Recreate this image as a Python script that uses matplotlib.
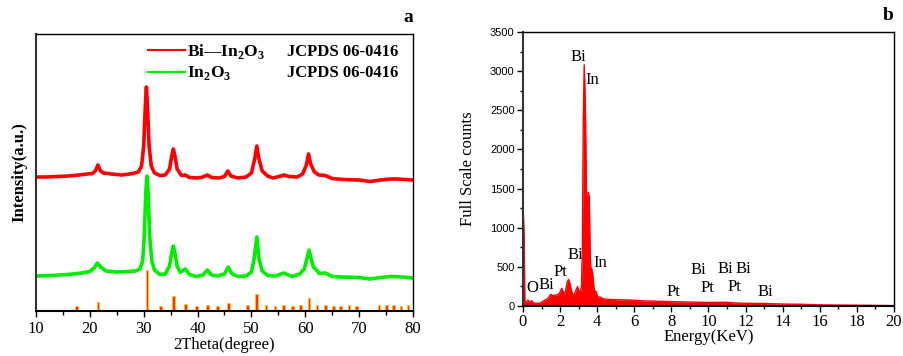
import numpy as np
import matplotlib
matplotlib.use("Agg")
import matplotlib.pyplot as plt
from matplotlib.ticker import MultipleLocator

plt.rcParams["font.family"] = ["Liberation Serif", "DejaVu Serif"]
plt.rcParams["mathtext.fontset"] = "custom"
plt.rcParams["mathtext.rm"] = "Liberation Serif"
plt.rcParams["mathtext.bf"] = "Liberation Serif:bold"

# ---- XRD (panel a), intensity in arbitrary units ----
red_2theta = [10, 12, 14, 16, 18, 19.5, 20.5, 21.0, 21.5, 22.0, 22.5, 24, 26, 28, 29, 29.6,
              30.0, 30.3, 30.5, 30.7, 31.0, 31.4, 32, 33, 34, 34.8, 35.2, 35.5, 35.8, 36.2,
              37, 37.7, 38.5, 40, 41, 41.8, 42.6, 44, 45, 45.6, 46.2, 47.5, 49, 50, 50.6,
              51.0, 51.4, 52, 53, 54, 55.5, 56, 57, 58.5, 59.5, 60.2, 60.6, 61.0, 61.7,
              62.5, 63.7, 65, 67, 70, 72, 74, 76, 77, 78.5, 80]
red_int = [134, 134, 134.5, 135, 136, 137, 137.5, 140, 146, 140, 138, 137, 136, 137.5, 139, 145,
           165, 205, 224, 205, 165, 145, 138, 135.5, 136, 142, 155, 162, 155, 142,
           135.5, 136, 133.5, 133, 134, 136, 133.5, 133, 134.5, 140, 135, 133, 134, 138, 152,
           165, 152, 140, 135, 133, 135, 136, 134.5, 134, 137, 146, 157, 147, 139,
           136, 135.5, 132.5, 131.5, 131, 129.5, 131, 132, 132, 131.5, 131]

green_2theta = [10, 13, 16, 18.5, 20, 20.8, 21.4, 22, 23, 25, 27, 28.5, 29.3, 29.8, 30.1, 30.4,
                30.6, 30.8, 31.1, 31.5, 32, 33, 34, 34.8, 35.2, 35.5, 35.8, 36.2, 36.8, 37.7,
                38.5, 39.8, 41, 41.8, 42.6, 43.7, 45, 45.7, 46.4, 47.5, 49, 50, 50.5, 51.0,
                51.4, 52, 53, 54.5, 56, 57.5, 59, 59.8, 60.3, 60.7, 61.1, 61.5, 61.9, 62.6,
                63.7, 65, 67, 70, 72, 74, 76, 78, 80]
green_int = [35, 35.5, 36.5, 38, 39.5, 43, 48, 44, 40, 39, 39.5, 40, 42, 50, 75, 120,
             135, 120, 75, 50, 41, 36.5, 37, 45, 58, 65, 58, 45, 38.5, 42,
             36.5, 34.5, 36, 41, 36, 35, 37, 44, 37, 34.5, 35, 39, 52, 74,
             52, 40, 35.5, 35, 38, 34.5, 37, 42, 52, 61, 52, 44, 42, 37.5,
             38, 34.5, 34, 33.5, 32, 33.5, 34.5, 34, 33]

# JCPDS 06-0416 reference lines
ref_2theta = [17.5, 21.5, 30.6, 33.1, 35.5, 37.7, 39.8, 41.8, 43.7, 45.7, 49.3, 51.0, 52.7,
              54.4, 56.0, 57.6, 59.1, 60.7, 62.2, 63.7, 65.2, 66.6, 68.1, 69.5, 73.7, 75.1,
              76.4, 77.8, 79.1]
ref_int = [5, 9.5, 41, 5, 15, 7, 5, 6.3, 5, 7.7, 5.7, 17, 5.7,
           5, 6.3, 5, 5.7, 13.3, 6.3, 6.3, 5, 5, 5.7, 5, 5.7, 5.7,
           5.7, 5, 5.7]

# ---- EDS (panel b) ----
energy = [0.0, 0.02, 0.06, 0.1, 0.2, 0.27, 0.35, 0.47, 0.55, 0.7, 0.9, 1.05, 1.19, 1.35, 1.5,
          1.6, 1.75, 1.9, 2.0, 2.09, 2.18, 2.27, 2.38, 2.45, 2.52, 2.58, 2.68, 2.76, 2.85,
          2.94, 3.02, 3.08, 3.15, 3.20, 3.25, 3.30, 3.36, 3.42, 3.46, 3.49, 3.52, 3.57, 3.62,
          3.66, 3.70, 3.75, 3.84, 3.95, 4.02, 4.2, 4.3, 5.0, 5.76, 6.5, 7.0, 8.0, 9.0, 10.0,
          10.9, 11.5, 12.0, 13.0, 14.0, 15.0, 16.0, 17.0, 18.0, 19.0, 20.0]
counts = [0, 1160, 900, 60, 50, 77, 45, 68, 40, 35, 35, 55, 77, 100, 150,
          130, 140, 145, 180, 226, 175, 162, 300, 340, 300, 226, 150, 140, 200,
          247, 190, 170, 247, 700, 2400, 3080, 2600, 1500, 1100, 1300, 1450, 1400, 700,
          450, 480, 420, 204, 180, 119, 111, 90, 80, 77, 65, 62, 55, 50, 45,
          48, 38, 35, 32, 25, 22, 15, 12, 10, 8, 5]

peak_labels = ["Bi", "In", "O", "Bi", "Pt", "Bi", "In", "Pt", "Bi", "Pt", "Bi", "Bi", "Pt", "Bi"]
label_E = [2.96, 3.72, 0.49, 1.28, 2.03, 2.82, 4.19, 8.10, 9.47, 9.93, 10.92, 11.9, 11.39, 13.05]
label_counts = [3180, 2886, 226, 268, 438, 651, 553, 175, 460, 226, 472, 472, 239, 175]

W, H = 904, 356
fig = plt.figure(figsize=(W / 100, H / 100), dpi=100)
ax1 = fig.add_axes([36 / W, (H - 311) / H, 377 / W, 277 / H])
ax2 = fig.add_axes([523 / W, (H - 306) / H, 371 / W, 274 / H])

# panel a
ax1.plot(red_2theta, red_int, color="#ff0000", lw=2.6)
ax1.plot(green_2theta, green_int, color="#00ee00", lw=2.6)
ax1.bar(ref_2theta, ref_int, width=0.5, color="#ff3300", edgecolor="#ffcc00", linewidth=0.5)
ax1.set_xlim(10, 80)
ax1.set_ylim(0, 277)
ax1.set_yticks([])
ax1.xaxis.set_major_locator(MultipleLocator(10))
ax1.xaxis.set_minor_locator(MultipleLocator(5))
ax1.tick_params(axis="x", direction="out", labelsize=12, length=4, width=1, pad=3)
ax1.tick_params(axis="x", which="minor", direction="out", length=3, width=1)
ax1.set_xlabel("2Theta(degree)", fontsize=12, labelpad=0)
ax1.set_ylabel("Intensity(a.u.)", fontsize=12, fontweight="bold", labelpad=6)
ax1.text(1.0, 1.03, "a", transform=ax1.transAxes, ha="right", va="bottom",
         fontsize=14, fontweight="bold")

# legend drawn by hand
ax1.plot([0.297, 0.395], [0.942, 0.942], color="#ff0000", lw=1.5, transform=ax1.transAxes)
ax1.plot([0.297, 0.395], [0.863, 0.863], color="#00ee00", lw=1.5, transform=ax1.transAxes)
ax1.text(0.401, 0.921, r"Bi—In$_\mathbf{2}$O$_\mathbf{3}$", transform=ax1.transAxes,
         fontsize=12.5, fontweight="bold", va="baseline")
ax1.text(0.401, 0.845, r"In$_\mathbf{2}$O$_\mathbf{3}$", transform=ax1.transAxes,
         fontsize=12.5, fontweight="bold", va="baseline")
ax1.text(0.666, 0.921, "JCPDS 06-0416", transform=ax1.transAxes,
         fontsize=12, fontweight="bold", va="baseline")
ax1.text(0.666, 0.845, "JCPDS 06-0416", transform=ax1.transAxes,
         fontsize=12, fontweight="bold", va="baseline")

# panel b
ax2.fill_between(energy, counts, 0, color="#ff0000", lw=0)
ax2.plot(energy, counts, color="#ff0000", lw=1.0)
ax2.set_xlim(0, 20)
ax2.set_ylim(0, 3500)
ax2.xaxis.set_major_locator(MultipleLocator(2))
ax2.xaxis.set_minor_locator(MultipleLocator(1))
ax2.yaxis.set_major_locator(MultipleLocator(500))
ax2.yaxis.set_minor_locator(MultipleLocator(250))
ax2.tick_params(axis="both", which="major", direction="out", length=4, width=1)
ax2.tick_params(axis="both", which="minor", direction="out", length=2.5, width=1)
ax2.tick_params(axis="x", labelsize=12, pad=2)
ax2.tick_params(axis="y", labelsize=8, pad=2)
for t in ax2.get_yticklabels():
    t.set_fontfamily("Liberation Sans")
ax2.set_xlabel("Energy(KeV)", fontsize=12, labelpad=-1)
ax2.set_ylabel("Full Scale counts", fontsize=12, labelpad=10)
ax2.text(1.0, 1.03, "b", transform=ax2.transAxes, ha="right", va="bottom",
         fontsize=14, fontweight="bold")
for lab, e, c in zip(peak_labels, label_E, label_counts):
    ax2.text(e, c, lab, ha="center", va="center", fontsize=12)

for ax in (ax1, ax2):
    for s in ax.spines.values():
        s.set_linewidth(1.0)
    ax.spines["left"].set_linewidth(1.5)
    ax.spines["left"].set_color("#333333")
    ax.spines["bottom"].set_linewidth(1.5)

fig.savefig("out.png", dpi=100)
